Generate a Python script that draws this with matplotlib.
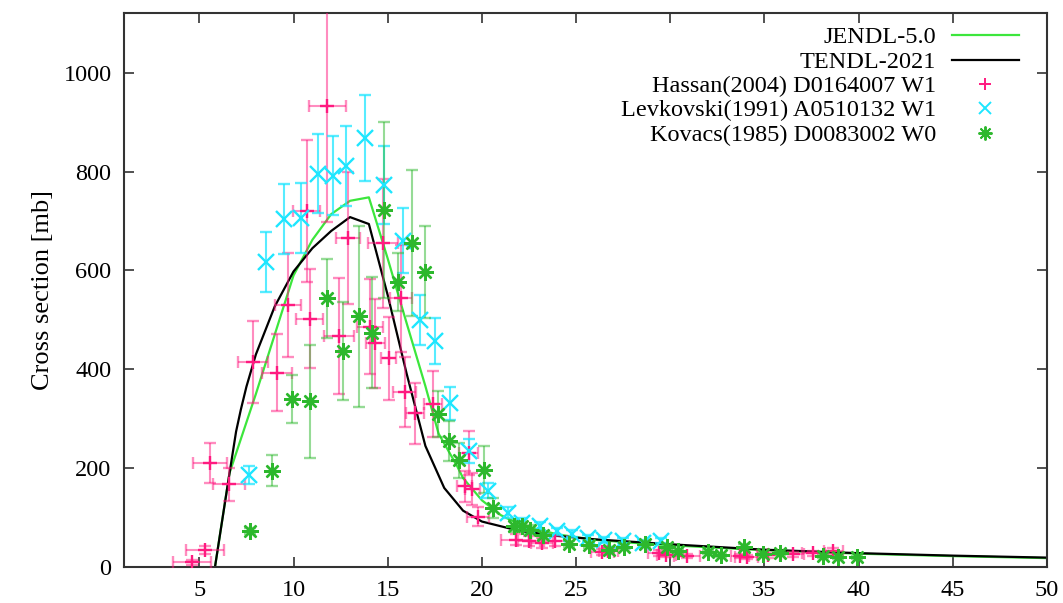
import matplotlib
matplotlib.use("Agg")
import matplotlib.pyplot as plt
from matplotlib.lines import Line2D

# Evaluated cross sections
jendl_e = [5.83, 6.6, 8.0, 9.0, 10.0, 11.0, 12.0, 13.0, 14.0, 15.0, 16.0, 17.0, 17.7,
           18.7, 19.0, 20.0, 21.0, 22.0, 24.0, 26.0, 28.0, 30.0, 35.0, 40.0, 45.0, 50.0]
jendl_xs = [0, 190, 350, 470, 590, 662, 714, 741, 748, 624, 494, 366, 270,
            203, 180, 135, 105, 86, 66, 55, 49, 44, 34, 27, 22, 18]

tendl_e = [5.83, 6.5, 6.95, 7.2, 7.5, 8.0, 9.0, 10.0, 11.0, 12.0, 13.0, 14.0, 15.0,
           16.0, 17.0, 18.0, 19.0, 20.0, 22.0, 24.0, 26.0, 28.0, 30.0, 35.0, 40.0, 45.0, 50.0]
tendl_xs = [0, 165, 274, 318, 365, 430, 527, 598, 645, 680, 708, 694, 550,
            392, 245, 160, 114, 92, 73, 63, 56, 51, 46, 35, 28, 23, 19]

# Hassan (2004) D0164007
hassan_e = [4.6, 5.3, 5.55, 6.55, 7.85, 9.1, 9.7, 10.7, 10.85, 11.8, 12.4, 12.9, 14.05,
            14.35, 14.75, 15.05, 15.7, 15.9, 16.45, 17.4, 19.3, 19.1, 19.5, 19.8, 21.8,
            22.5, 23.2, 23.9, 26.4, 26.7, 29.4, 29.8, 30.9, 33.7, 34.05, 35.2, 36.5, 37.6, 38.65]
hassan_de = [1.0, 1.0, 0.9, 0.85, 0.78, 0.8, 0.7, 0.73, 0.7, 1.0, 0.8, 0.62, 0.7,
             0.5, 0.8, 0.4, 0.6, 0.6, 0.5, 0.5, 0.5, 0.4, 0.4, 0.6, 0.8,
             0.6, 0.6, 0.6, 0.6, 0.5, 0.6, 0.5, 0.7, 0.5, 0.6, 0.6, 0.6, 0.6, 0.5]
hassan_xs = [10, 34, 210, 167, 415, 393, 530, 720, 502, 932, 468, 666, 486,
             453, 655, 422, 544, 354, 311, 330, 231, 163, 158, 102, 55,
             53, 48, 52, 31, 33, 28, 25, 22, 22, 20, 24, 26, 28, 33]
hassan_dxs = [5, 8, 41, 33, 83, 78, 105, 144, 100, 233, 117, 133, 96,
              90, 130, 84, 108, 70, 62, 66, 45, 32, 32, 20, 11,
              10, 10, 10, 6, 6, 6, 5, 4, 4, 4, 5, 5, 5, 6]

# Levkovski (1991) A0510132
levk_e = [7.65, 8.55, 9.5, 10.4, 11.3, 12.1, 12.8, 13.8, 14.8, 15.8, 16.7, 17.5, 18.3,
          19.3, 20.35, 21.4, 22.15, 23.1, 24.0, 24.8, 25.65, 26.5, 27.5, 28.55, 29.5]
levk_xs = [186, 617, 704, 706, 796, 792, 812, 869, 773, 660, 500, 457, 331,
           235, 154, 110, 90, 83, 72, 67, 59, 55, 53, 49, 53]
levk_dxs = [18, 61, 71, 71, 80, 80, 81, 87, 78, 66, 50, 46, 33,
            25, 15, 11, 9, 8, 7, 7, 6, 6, 5, 5, 5]

# Kovacs (1985) D0083002
kov_e = [7.7, 8.84, 9.9, 10.87, 11.76, 12.6, 13.45, 14.15, 14.8, 15.57, 16.3, 16.97,
         17.65, 18.28, 18.78, 20.12, 20.57, 21.7, 22.15, 22.55, 23.25, 24.65, 25.7,
         26.75, 27.55, 28.68, 29.85, 30.4, 32.0, 32.7, 33.9, 34.9, 35.8, 38.1, 38.9, 39.9]
kov_xs = [73, 195, 340, 335, 544, 437, 507, 474, 723, 577, 655, 596,
          310, 255, 216, 197, 120, 83, 82, 75, 65, 47, 44,
          35, 41, 46, 41, 32, 31, 24, 41, 26, 29, 22, 20, 20]
kov_dxs = [6, 31, 49, 115, 80, 100, 183, 112, 178, 58, 148, 93,
           46, 40, 35, 47, 20, 12, 10, 9, 8, 6, 6,
           5, 5, 6, 5, 4, 4, 3, 5, 3, 4, 3, 3, 3]

x_ticks = [5, 10, 15, 20, 25, 30, 35, 40, 45, 50]
y_ticks = [0, 200, 400, 600, 800, 1000]

PINK = "#ff1a80"
CYAN = "#1ee6ff"
GREEN_PTS = "#2db82d"
GREEN_LINE = "#3ce63c"

plt.rcParams["font.family"] = ["Liberation Serif", "DejaVu Serif"]

fig = plt.figure(figsize=(10.63, 6.03), dpi=100)
ax = fig.add_axes([124 / 1063, 36 / 603, 923 / 1063, 554 / 603])

ax.plot(jendl_e, jendl_xs, color=GREEN_LINE, lw=1.6, zorder=2)
ax.plot(tendl_e, tendl_xs, color="black", lw=1.6, zorder=2)

err_kw = dict(linestyle="none", elinewidth=1.5, capsize=4, capthick=1.5, zorder=3)
ax.errorbar(hassan_e, hassan_xs, xerr=hassan_de, yerr=hassan_dxs, marker="+", ms=10,
            mew=1.7, color=PINK, ecolor=(1.0, 0.1, 0.5, 0.5), **err_kw)
ax.errorbar(levk_e, levk_xs, yerr=levk_dxs, marker="x", ms=11, mew=1.7,
            color=CYAN, ecolor=(0.12, 0.9, 1.0, 0.75), **err_kw)
ax.errorbar(kov_e, kov_xs, yerr=kov_dxs, marker=(8, 2, 0), ms=12, mew=1.7,
            color=GREEN_PTS, ecolor=(0.18, 0.72, 0.18, 0.5), **err_kw)

ax.set_xlim(1, 50)
ax.set_ylim(0, 1121)
ax.set_xticks(x_ticks)
ax.set_yticks(y_ticks)
ax.tick_params(direction="in", length=7, width=1.2, top=True, right=True,
               labelsize=17.5, pad=9, colors="#333333", labelcolor="black")
for sp in ax.spines.values():
    sp.set_linewidth(1.5)
    sp.set_color("#333333")
ax.set_ylabel("Cross section [mb]", fontsize=19, labelpad=7)

# Key in the upper right corner: right-aligned names followed by samples
def fx(px):
    return (px - 124) / 923

def fy(py):
    return (567 - py) / 554

rows = [
    ("JENDL-5.0", dict(color=GREEN_LINE, lw=1.6), None),
    ("TENDL-2021", dict(color="black", lw=1.6), None),
    ("Hassan(2004) D0164007 W1", None, dict(marker="+", ms=9, mew=1.4, color=PINK)),
    ("Levkovski(1991) A0510132 W1", None, dict(marker="x", ms=9, mew=1.4, color=CYAN)),
    ("Kovacs(1985) D0083002 W0", None, dict(marker=(8, 2, 0), ms=10, mew=1.4, color=GREEN_PTS)),
]
row_y = [35, 60, 84, 108, 133]
for (label, line_kw, mark_kw), py in zip(rows, row_y):
    ax.text(fx(936), fy(py), label, transform=ax.transAxes, ha="right",
            va="center_baseline", fontsize=17.5)
    if line_kw is not None:
        ax.add_line(Line2D([fx(952), fx(1019)], [fy(py), fy(py)],
                           transform=ax.transAxes, **line_kw))
    else:
        ax.add_line(Line2D([fx(985)], [fy(py)], transform=ax.transAxes,
                           linestyle="none", **mark_kw))

fig.savefig("out.png", dpi=100)
